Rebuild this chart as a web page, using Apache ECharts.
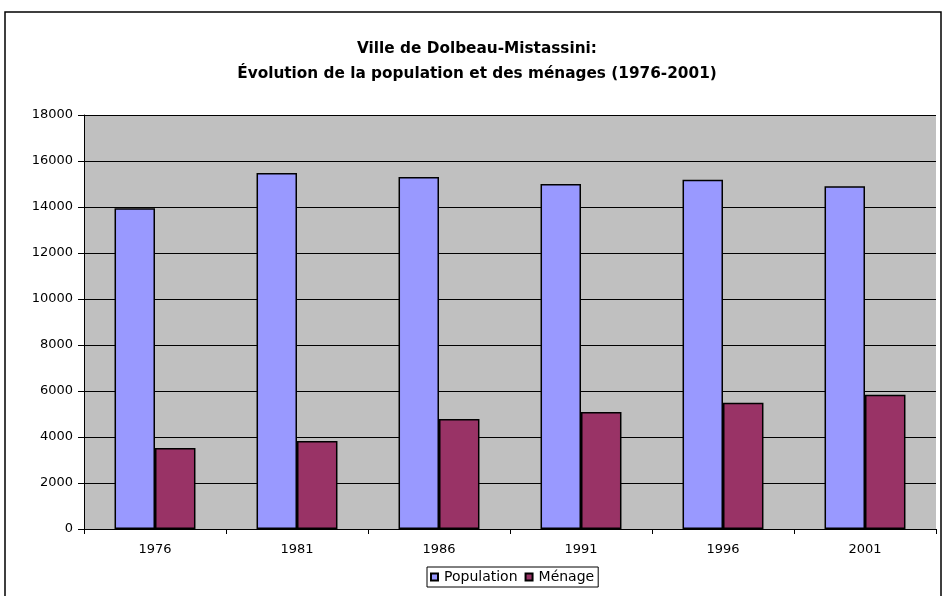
<!DOCTYPE html>
<html>
<head>
<meta charset="utf-8">
<script src="https://cdn.jsdelivr.net/npm/echarts@6/dist/echarts.min.js"></script>
<style>
  html, body { margin: 0; padding: 0; background: #fff; }
  #chart { width: 943px; height: 596px; }
</style>
</head>
<body>
<div id="chart"></div>
<script>
// données
const annees = ['1976', '1981', '1986', '1991', '1996', '2001'];
const population = [13950, 15480, 15300, 15000, 15180, 14900];
const menages = [3520, 3830, 4780, 5090, 5490, 5840];

const font = 'DejaVu Sans';

const chart = echarts.init(document.getElementById('chart'));
chart.setOption({
  animation: false,
  backgroundColor: '#fff',
  textStyle: { fontFamily: font },
  title: {
    text: 'Ville de Dolbeau-Mistassini:\nÉvolution de la population et des ménages (1976-2001)',
    left: 472,
    textAlign: 'center',
    top: 32,
    textStyle: { fontFamily: font, fontSize: 15.3, fontWeight: 'bold', color: '#000', lineHeight: 25 }
  },
  graphic: [{
    type: 'rect',
    shape: { x: 5, y: 12, width: 936, height: 620 },
    style: { fill: 'none', stroke: '#000', lineWidth: 1.5 },
    silent: true
  }],
  legend: {
    data: ['Population', 'Ménage'],
    left: 427,
    top: 567,
    icon: 'rect',
    itemWidth: 7,
    itemHeight: 7,
    itemGap: 7,
    padding: [3, 4, 3, 3],
    borderColor: '#000',
    borderWidth: 1,
    textStyle: { fontFamily: font, fontSize: 14, color: '#000', padding: [0, 0, 0, 1] }
  },
  grid: {
    left: 84, right: 7, top: 115, bottom: 67,
    show: true,
    backgroundColor: '#c0c0c0',
    borderColor: '#808080',
    borderWidth: 0
  },
  xAxis: {
    type: 'category',
    data: annees,
    axisLine: { lineStyle: { color: '#000', width: 1 } },
    axisTick: { show: true, length: 5, lineStyle: { color: '#000' } },
    axisLabel: { color: '#000', fontSize: 13, margin: 14, fontFamily: font }
  },
  yAxis: {
    type: 'value',
    min: 0,
    max: 18000,
    interval: 2000,
    axisLine: { show: true, lineStyle: { color: '#000', width: 1 } },
    axisTick: { show: true, length: 6, lineStyle: { color: '#000' } },
    axisLabel: { color: '#000', fontSize: 13, margin: 11, fontFamily: font, formatter: v => String(v) },
    splitLine: { show: true, lineStyle: { color: '#000', width: 1 } }
  },
  series: [
    {
      name: 'Population',
      type: 'bar',
      data: population,
      barGap: '0%',
      barCategoryGap: '43%',
      itemStyle: { color: '#9999ff', borderColor: '#000', borderWidth: 1.5 }
    },
    {
      name: 'Ménage',
      type: 'bar',
      data: menages,
      itemStyle: { color: '#993366', borderColor: '#000', borderWidth: 1.5 }
    }
  ]
});
</script>
</body>
</html>
